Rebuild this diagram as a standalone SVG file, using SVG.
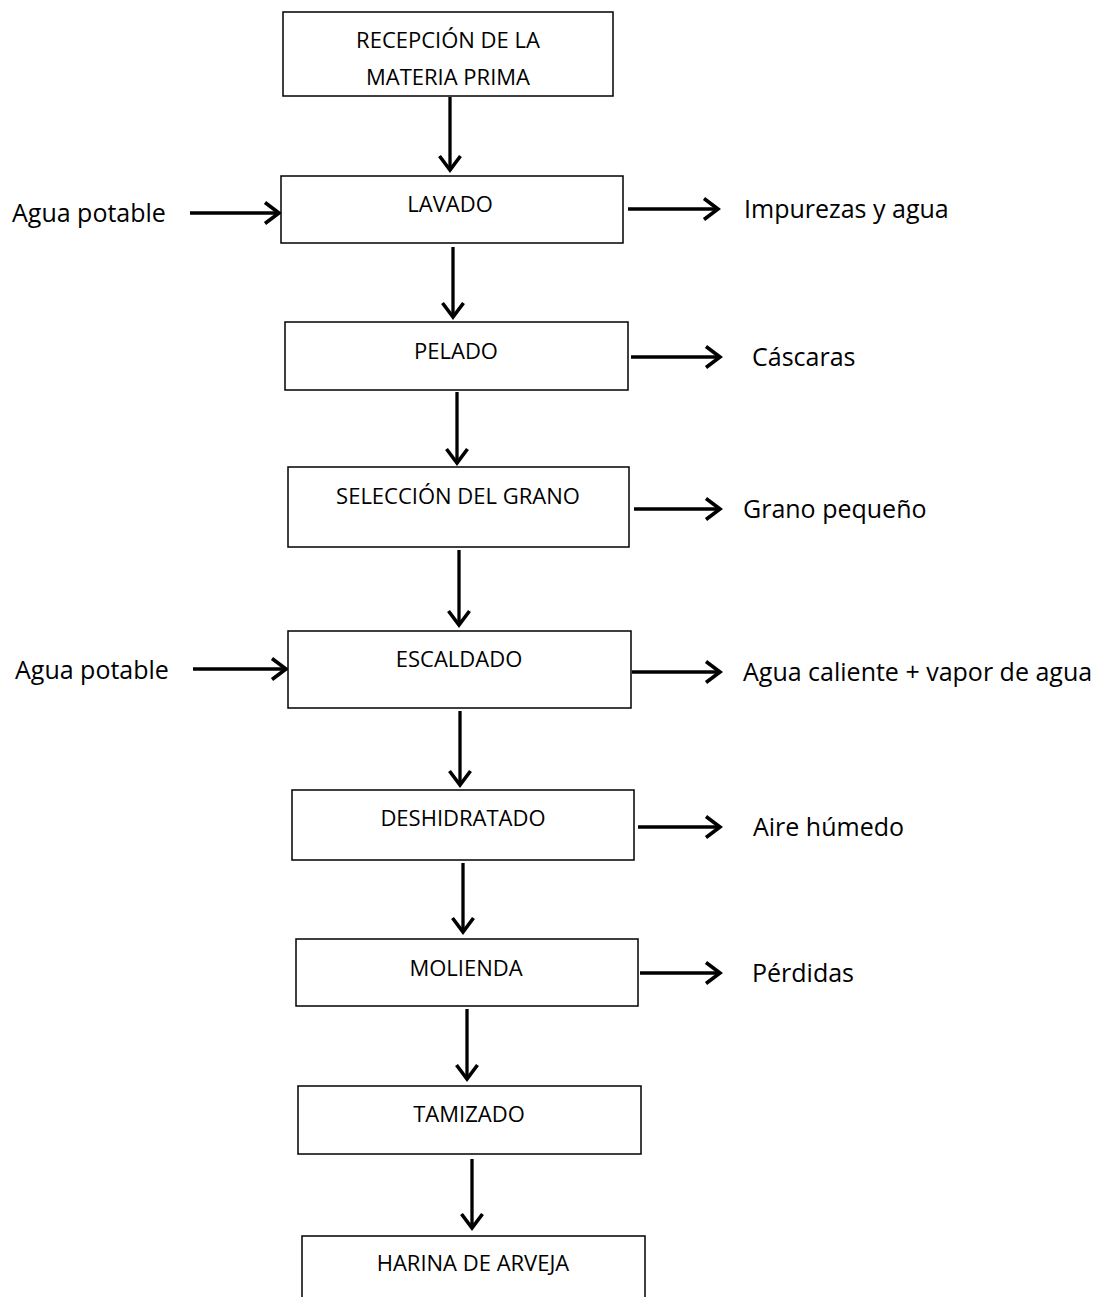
<svg xmlns="http://www.w3.org/2000/svg" width="1104" height="1297" viewBox="0 0 1104 1297">
<style>
.box{fill:#fff;stroke:#000;stroke-width:1.5}
.bt{font-family:"Open Sans","Liberation Sans",sans-serif;font-size:22px;fill:#000;text-anchor:middle}
.lt{font-family:"Open Sans","Liberation Sans",sans-serif;font-size:25px;fill:#000}
.c{stroke:#000;stroke-width:3.3;fill:none;marker-end:url(#ah)}
</style>
<defs>
<marker id="ah" markerUnits="userSpaceOnUse" viewBox="-20 -15 25 30" markerWidth="25" markerHeight="30" refX="0" refY="0" orient="auto">
<path d="M-14,-10.5 L0,0 L-14,10.5" fill="none" stroke="#000" stroke-width="3.6"/>
</marker>
</defs>
<rect width="1104" height="1297" fill="#fff"/>
<g id="connectors">
<line class="c" x1="450" y1="97" x2="450" y2="170"/>
<line class="c" x1="453" y1="247" x2="453" y2="317"/>
<line class="c" x1="457" y1="392" x2="457" y2="463"/>
<line class="c" x1="459" y1="550" x2="459" y2="625"/>
<line class="c" x1="460" y1="711" x2="460" y2="785"/>
<line class="c" x1="463" y1="863" x2="463" y2="932"/>
<line class="c" x1="467" y1="1009" x2="467" y2="1079"/>
<line class="c" x1="472" y1="1159" x2="472" y2="1228"/>
<line class="c" x1="190" y1="213" x2="279" y2="213"/>
<line class="c" x1="628" y1="209" x2="718" y2="209"/>
<line class="c" x1="631" y1="357" x2="720" y2="357"/>
<line class="c" x1="634" y1="509" x2="720" y2="509"/>
<line class="c" x1="193" y1="669" x2="286" y2="669"/>
<line class="c" x1="632" y1="672" x2="720" y2="672"/>
<line class="c" x1="638" y1="827" x2="720" y2="827"/>
<line class="c" x1="640" y1="973" x2="720" y2="973"/>
</g>
<g id="recepcion"><rect class="box" x="283" y="12" width="330" height="84"/><text class="bt" x="448" y="48">RECEPCIÓN DE LA</text><text class="bt" x="448" y="85">MATERIA PRIMA</text></g>
<g id="lavado"><rect class="box" x="281" y="176" width="342" height="67"/><text class="bt" x="450" y="212">LAVADO</text></g>
<g id="pelado"><rect class="box" x="285" y="322" width="343" height="68"/><text class="bt" x="456" y="359">PELADO</text></g>
<g id="seleccion"><rect class="box" x="288" y="467" width="341" height="80"/><text class="bt" x="458" y="504">SELECCIÓN DEL GRANO</text></g>
<g id="escaldado"><rect class="box" x="288" y="631" width="343" height="77"/><text class="bt" x="459" y="667">ESCALDADO</text></g>
<g id="deshidratado"><rect class="box" x="292" y="790" width="342" height="70"/><text class="bt" x="463" y="826">DESHIDRATADO</text></g>
<g id="molienda"><rect class="box" x="296" y="939" width="342" height="67"/><text class="bt" x="466" y="976">MOLIENDA</text></g>
<g id="tamizado"><rect class="box" x="298" y="1086" width="343" height="68"/><text class="bt" x="469" y="1122">TAMIZADO</text></g>
<g id="harina"><rect class="box" x="302" y="1236" width="343" height="70"/><text class="bt" x="473" y="1271">HARINA DE ARVEJA</text></g>
<g id="agua1"><text class="lt" x="12" y="222">Agua potable</text></g>
<g id="impurezas"><text class="lt" x="744" y="218">Impurezas y agua</text></g>
<g id="cascaras"><text class="lt" x="752" y="366">Cáscaras</text></g>
<g id="grano"><text class="lt" x="743" y="518">Grano pequeño</text></g>
<g id="agua2"><text class="lt" x="15" y="679">Agua potable</text></g>
<g id="caliente"><text class="lt" x="743" y="681">Agua caliente + vapor de agua</text></g>
<g id="aire"><text class="lt" x="753" y="836">Aire húmedo</text></g>
<g id="perdidas"><text class="lt" x="752" y="982">Pérdidas</text></g>
</svg>
